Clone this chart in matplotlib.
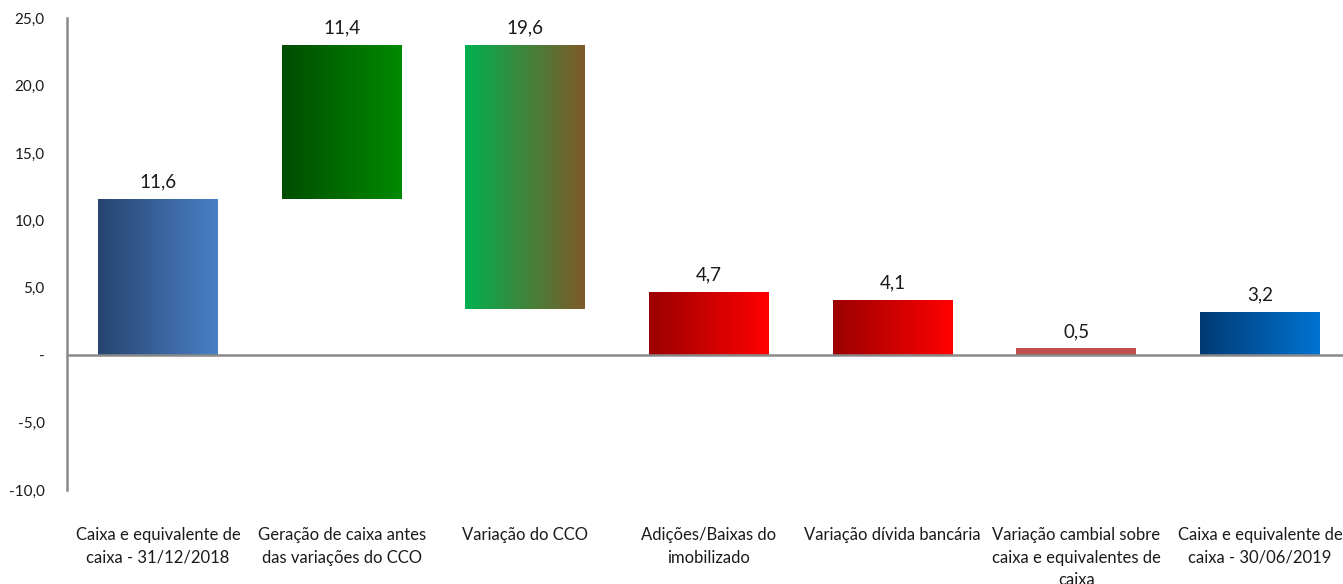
import numpy as np
import matplotlib
matplotlib.use("Agg")
import matplotlib.pyplot as plt
from matplotlib.colors import to_rgb

plt.rcParams['font.family'] = ['Lato', 'DejaVu Sans']

categories = [
    "Caixa e equivalente de\ncaixa - 31/12/2018",
    "Geração de caixa antes\ndas variações do CCO",
    "Variação do CCO",
    "Adições/Baixas do\nimobilizado",
    "Variação dívida bancária",
    "Variação cambial sobre\ncaixa e equivalentes de\ncaixa",
    "Caixa e equivalente de\ncaixa - 30/06/2019",
]
values = [11.6, 11.4, 19.6, 4.7, 4.1, 0.5, 3.2]
bases = [0.0, 11.6, 3.4, 0.0, 0.0, 0.0, 0.0]
value_labels = ["11,6", "11,4", "19,6", "4,7", "4,1", "0,5", "3,2"]
yticks = [-10, -5, 0, 5, 10, 15, 20, 25]
ytick_labels = ["-10,0", "-5,0", "-", "5,0", "10,0", "15,0", "20,0", "25,0"]

grad_colors = [
    ("#26446f", "#4a80c6"),
    ("#004d00", "#008a00"),
    ("#00b050", "#7f5a28"),
    ("#9b0000", "#ff0000"),
    ("#9b0000", "#ff0000"),
    ("#c0504d", "#c0504d"),
    ("#003a75", "#0073d2"),
]

fig = plt.figure(figsize=(13.43, 5.84), dpi=100)
ax = fig.add_axes([0.0499, 0.161, 0.9501, 0.808])

x = np.arange(len(categories))
bars = ax.bar(x, values, bottom=bases, width=0.653, facecolor='none', edgecolor='none', zorder=2)

for rect, (c0, c1) in zip(bars, grad_colors):
    x0, y0 = rect.get_x(), rect.get_y()
    w, h = rect.get_width(), rect.get_height()
    t = np.linspace(0, 1, 256)[None, :, None]
    img = (1 - t) * np.array(to_rgb(c0))[None, None, :] + t * np.array(to_rgb(c1))[None, None, :]
    im = ax.imshow(img, extent=(x0, x0 + w, y0, y0 + h), aspect='auto', zorder=2, interpolation='bilinear')
    im.set_clip_path(rect)

for xi, b, v, lab in zip(x, bases, values, value_labels):
    ax.annotate(lab, (xi, b + v), xytext=(0, 6), textcoords='offset points',
                ha='center', va='bottom', fontsize=13.5, color='#1a1a1a')

ax.set_xlim(-0.495, 6.452)
ax.set_ylim(-10, 25)
ax.set_yticks(yticks)
ax.set_yticklabels(ytick_labels, fontsize=11, color='#1a1a1a')
ax.set_xticks(x)
ax.set_xticklabels(categories, fontsize=12, color='#1a1a1a', linespacing=1.5, va='top')
ax.tick_params(axis='y', length=0, pad=16)
ax.tick_params(axis='x', length=0, pad=27)

for s in ['top', 'right', 'bottom']:
    ax.spines[s].set_visible(False)
ax.spines['left'].set_color('#898989')
ax.spines['left'].set_linewidth(1.8)
ax.axhline(0, color='#898989', linewidth=1.8, zorder=3)

fig.savefig("out.png", dpi=100)
